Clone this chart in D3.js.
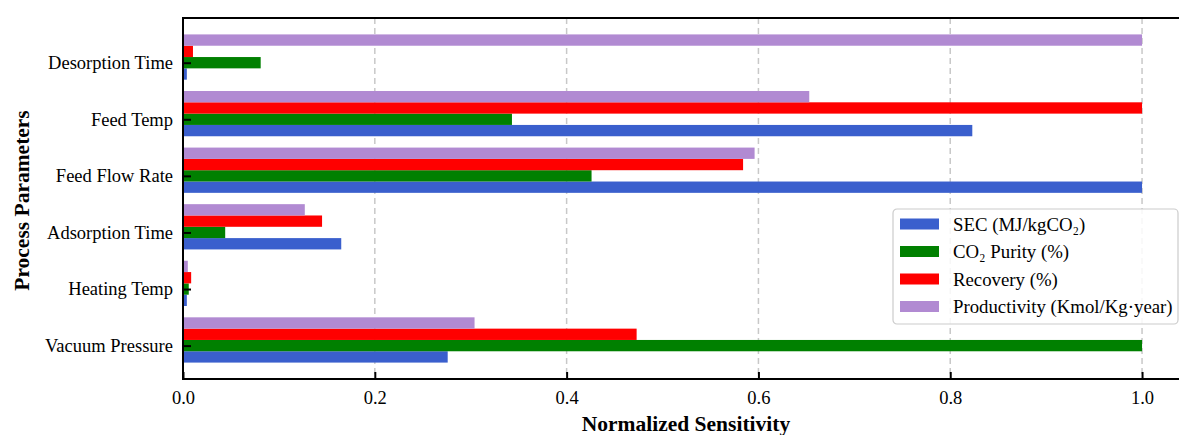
<!DOCTYPE html>
<html>
<head>
<meta charset="utf-8">
<script src="https://cdn.jsdelivr.net/npm/d3@7"></script>
<style>
  body { margin: 0; background: #fff; }
  svg { display: block; font-family: "Liberation Serif", "Times New Roman", serif; }
</style>
</head>
<body>
<svg id="chart" width="1179" height="435"></svg>
<script>
// categories, top to bottom as drawn
const categories = ["Desorption Time", "Feed Temp", "Feed Flow Rate", "Adsorption Time", "Heating Temp", "Vacuum Pressure"];
const seriesNames = ["SEC (MJ/kgCO₂)", "CO₂ Purity (%)", "Recovery (%)", "Productivity (Kmol/Kg·year)"];
const secValues = [0.004, 0.823, 1.0, 0.165, 0.004, 0.276];
const purityValues = [0.081, 0.343, 0.426, 0.044, 0.006, 1.0];
const recoveryValues = [0.0104, 1.0, 0.584, 0.145, 0.0085, 0.473];
const productivityValues = [1.0, 0.653, 0.596, 0.127, 0.005, 0.304];
const xTicks = [0.0, 0.2, 0.4, 0.6, 0.8, 1.0];
const colors = ["#3a5fcd", "#008000", "#ff0000", "#b18ad2"];

const series = [secValues, purityValues, recoveryValues, productivityValues];
const barW = 0.2;

const plot = { left: 183, right: 1190, top: 18, bottom: 379 };
const svg = d3.select("#chart");

// categories sit at 0..5 from bottom, offsets follow -w, 0, +w, +2w
const x = d3.scaleLinear().domain([0, 1.05]).range([plot.left, plot.right]);
const y = d3.scaleLinear().domain([-0.59, 5.79]).range([plot.bottom, plot.top]);
const catPos = i => categories.length - 1 - i;

// grid
svg.append("g")
  .selectAll("line")
  .data(xTicks.filter(d => d > 0))
  .join("line")
  .attr("x1", d => x(d)).attr("x2", d => x(d))
  .attr("y1", plot.top).attr("y2", plot.bottom)
  .attr("stroke", "#c8c8c8")
  .attr("stroke-width", 1.5)
  .attr("stroke-dasharray", "6,4");

// bars
series.forEach((vals, s) => {
  svg.append("g")
    .selectAll("rect")
    .data(vals)
    .join("rect")
    .attr("x", x(0))
    .attr("width", d => x(d) - x(0))
    .attr("y", (d, i) => y(catPos(i) + (s - 1) * barW + barW / 2))
    .attr("height", y(0) - y(barW))
    .attr("fill", colors[s]);
});

// axes
const xAxis = d3.axisBottom(x).tickValues(xTicks).tickFormat(d3.format(".1f"))
  .tickSizeInner(-7).tickSizeOuter(0).tickPadding(12);
const gx = svg.append("g").attr("transform", `translate(0,${plot.bottom})`).call(xAxis);
gx.select(".domain").remove();
gx.selectAll(".tick line").attr("stroke", "#000").attr("stroke-width", 2);
gx.selectAll(".tick text").attr("font-size", 18.5).attr("font-family", "Liberation Serif").attr("fill", "#000");

const yAxis = d3.axisLeft(y).tickValues(categories.map((c, i) => catPos(i)))
  .tickFormat(d => categories[categories.length - 1 - d])
  .tickSizeInner(-8).tickSizeOuter(0).tickPadding(10);
const gy = svg.append("g").attr("transform", `translate(${plot.left},0)`).call(yAxis);
gy.select(".domain").remove();
gy.selectAll(".tick line").attr("stroke", "#000").attr("stroke-width", 2);
gy.selectAll(".tick text").attr("font-size", 18.5).attr("font-family", "Liberation Serif").attr("fill", "#000");

// frame
svg.append("rect")
  .attr("x", plot.left).attr("y", plot.top)
  .attr("width", plot.right - plot.left).attr("height", plot.bottom - plot.top)
  .attr("fill", "none").attr("stroke", "#000").attr("stroke-width", 2);

// axis titles
svg.append("text")
  .attr("x", 686).attr("y", 431)
  .attr("text-anchor", "middle")
  .attr("font-size", 21.5).attr("font-weight", "bold")
  .text("Normalized Sensitivity");

svg.append("text")
  .attr("transform", `translate(29,${(plot.top + plot.bottom) / 2 + 2}) rotate(-90)`)
  .attr("text-anchor", "middle")
  .attr("font-size", 21.5).attr("font-weight", "bold")
  .text("Process Parameters");

// legend
const lg = svg.append("g").attr("transform", "translate(893,209)");
lg.append("rect")
  .attr("width", 285).attr("height", 115).attr("rx", 4)
  .attr("fill", "#fff").attr("fill-opacity", 0.85)
  .attr("stroke", "#ccc").attr("stroke-width", 1.2);
seriesNames.forEach((name, i) => {
  const row = lg.append("g").attr("transform", `translate(0,${15 + i * 27.5})`);
  row.append("rect").attr("x", 7).attr("y", -5.5).attr("width", 39).attr("height", 11).attr("fill", colors[i]);
  row.append("text").attr("x", 60).attr("y", 6.5).attr("font-size", 18.8).text(name);
});
</script>
</body>
</html>
